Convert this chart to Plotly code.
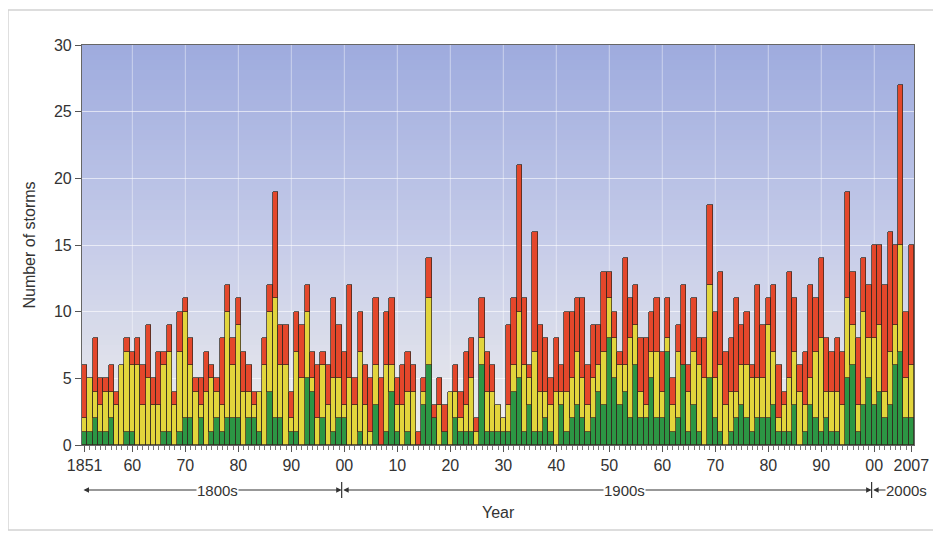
import plotly.graph_objects as go

years = list(range(1851, 2008))

total_storms = [
    6, 5, 8, 5, 5, 6, 4, 6, 8, 7,        # 1851-1860
    8, 6, 9, 5, 7, 7, 9, 4, 10, 11,      # 1861-1870
    8, 5, 5, 7, 6, 5, 8, 12, 8, 11,      # 1871-1880
    7, 6, 4, 4, 8, 12, 19, 9, 9, 4,      # 1881-1890
    10, 9, 12, 7, 6, 7, 6, 11, 9, 7,     # 1891-1900
    12, 5, 10, 6, 5, 11, 5, 10, 11, 5,   # 1901-1910
    6, 7, 6, 1, 5, 14, 3, 5, 3, 4,       # 1911-1920
    6, 4, 7, 8, 2, 11, 7, 6, 3, 2,       # 1921-1930
    9, 11, 21, 11, 6, 16, 9, 8, 5, 8,    # 1931-1940
    6, 10, 10, 11, 11, 6, 9, 9, 13, 13,  # 1941-1950
    10, 7, 14, 11, 12, 8, 8, 10, 11, 7,  # 1951-1960
    11, 5, 9, 12, 6, 11, 8, 8, 18, 10,   # 1961-1970
    13, 7, 8, 11, 9, 10, 6, 12, 9, 11,   # 1971-1980
    12, 6, 4, 13, 11, 6, 7, 12, 11, 14,  # 1981-1990
    8, 7, 8, 7, 19, 13, 8, 14, 12, 15,   # 1991-2000
    15, 12, 16, 15, 27, 10, 15,          # 2001-2007
]

hurricanes = [
    2, 5, 4, 3, 4, 4, 3, 6, 7, 6,
    6, 3, 5, 3, 3, 6, 7, 3, 7, 10,
    6, 4, 3, 4, 5, 4, 3, 10, 6, 9,
    4, 4, 3, 4, 6, 10, 11, 6, 6, 2,
    7, 5, 10, 5, 2, 6, 3, 5, 5, 3,
    5, 3, 7, 3, 1, 6, 0, 6, 6, 3,
    3, 4, 4, 0, 4, 11, 2, 3, 1, 4,
    4, 2, 3, 5, 1, 8, 4, 4, 3, 2,
    3, 6, 10, 6, 5, 7, 4, 4, 3, 4,
    4, 4, 5, 7, 5, 3, 5, 6, 7, 11,
    8, 6, 6, 8, 9, 4, 3, 7, 7, 4,
    8, 3, 7, 6, 4, 7, 6, 5, 12, 5,
    6, 3, 4, 4, 6, 6, 5, 5, 5, 9,
    7, 2, 3, 5, 7, 4, 3, 5, 7, 8,
    4, 4, 4, 3, 11, 9, 3, 10, 8, 8,
    9, 4, 7, 9, 15, 5, 6,
]

major_hurricanes = [
    1, 1, 2, 1, 1, 2, 0, 0, 1, 1,
    0, 0, 0, 0, 0, 1, 1, 0, 1, 2,
    2, 0, 2, 0, 1, 2, 1, 2, 2, 2,
    0, 2, 2, 1, 0, 4, 2, 2, 0, 1,
    1, 0, 5, 4, 0, 2, 0, 1, 2, 2,
    0, 0, 1, 0, 0, 3, 0, 1, 4, 1,
    0, 1, 0, 0, 3, 6, 2, 0, 1, 0,
    2, 1, 1, 1, 0, 6, 1, 1, 1, 1,
    1, 4, 5, 1, 3, 1, 1, 2, 1, 0,
    3, 1, 2, 3, 2, 1, 2, 4, 3, 8,
    5, 3, 4, 2, 6, 2, 2, 5, 2, 2,
    7, 1, 2, 6, 1, 3, 1, 0, 5, 2,
    1, 0, 1, 2, 3, 2, 1, 2, 2, 2,
    3, 1, 1, 1, 3, 0, 1, 3, 2, 1,
    2, 1, 1, 0, 5, 6, 1, 3, 5, 3,
    4, 2, 3, 6, 7, 2, 2,
]

tick_years = [1851, 1860, 1870, 1880, 1890, 1900, 1910, 1920, 1930, 1940,
              1950, 1960, 1970, 1980, 1990, 2000, 2007]
tick_labels = ["1851", "60", "70", "80", "90", "00", "10", "20", "30", "40",
               "50", "60", "70", "80", "90", "00", "2007"]
grid_years = [1860, 1870, 1880, 1890, 1900, 1910, 1920, 1930, 1940, 1950,
              1960, 1970, 1980, 1990, 2000]
century_labels = ["1800s", "1900s", "2000s"]
century_bounds = [(1850.5, 1899.5), (1899.5, 1999.5), (1999.5, 2007.5)]

# stacked pieces
def nz(v):
    return [x if x > 0 else None for x in v]

ts_only = [t - h for t, h in zip(total_storms, hurricanes)]
hur_only = [h - m for h, m in zip(hurricanes, major_hurricanes)]

FONT = "Liberation Sans, Arial, sans-serif"
outline = dict(color="rgba(50,40,30,0.9)", width=0.8)

fig = go.Figure()
fig.add_bar(x=years, y=nz(major_hurricanes), name="Major hurricanes",
            marker=dict(color="#2c9644", line=outline))
fig.add_bar(x=years, y=nz(hur_only), name="Hurricanes",
            marker=dict(color="#e2d53c", line=outline))
fig.add_bar(x=years, y=nz(ts_only), name="Tropical storms",
            marker=dict(color="#e4472b", line=outline))

shapes = []
# vertical gradient background of the plot area
N = 80
top = (158, 171, 222)
mid = (198, 204, 233)
bot = (240, 239, 236)
for i in range(N):
    t = (i + 0.5) / N
    if t < 0.5:
        a, b, u = bot, mid, t / 0.5
    else:
        a, b, u = mid, top, (t - 0.5) / 0.5
    c = tuple(int(round(a[k] + (b[k] - a[k]) * u)) for k in range(3))
    shapes.append(dict(type="rect", xref="paper", yref="paper",
                       x0=0, x1=1, y0=i / N, y1=(i + 1) / N + 0.002,
                       fillcolor="rgb(%d,%d,%d)" % c, line=dict(width=0),
                       layer="below"))
# decade grid lines
for gy in grid_years:
    shapes.append(dict(type="line", xref="x", yref="paper", x0=gy, x1=gy,
                       y0=0, y1=1, line=dict(color="rgba(255,255,255,0.45)", width=1),
                       layer="between"))
# century dividers below axis
ya = -0.1125
for xb in [1899.5, 1999.5]:
    shapes.append(dict(type="line", xref="x", yref="paper", x0=xb, x1=xb,
                       y0=ya - 0.02, y1=ya + 0.02, line=dict(color="#333", width=1.2)))
# outer frame
shapes.append(dict(type="rect", xref="paper", yref="paper",
                   x0=-0.089, x1=1.0265, y0=-0.2125, y1=1.0875,
                   line=dict(color="#d2d2d2", width=1.5), fillcolor="rgba(0,0,0,0)"))

annotations = []
for (x0, x1) in century_bounds:
    annotations.append(dict(x=x1, y=ya, xref="x", yref="paper",
                            ax=x0, ay=0, axref="x", ayref="pixel",
                            text="", showarrow=True, arrowside="end+start",
                            arrowhead=2, startarrowhead=2, arrowsize=1, startarrowsize=1,
                            arrowwidth=1.1, arrowcolor="#333"))
label_x = [1876.0, 1952.8, 2006.0]
for lab, lx in zip(century_labels, label_x):
    annotations.append(dict(x=lx, y=ya, xref="x", yref="paper", text=lab,
                            showarrow=False, bgcolor="#ffffff",
                            font=dict(family=FONT, size=15, color="#333"),
                            borderpad=0, xanchor="center", yanchor="middle"))
annotations.append(dict(x=0.5, y=-0.1675, xref="paper", yref="paper", text="Year",
                        showarrow=False, font=dict(family=FONT, size=16, color="#333"),
                        xanchor="center", yanchor="middle"))

# page body adds an 8px offset, so the figure is 8px smaller and margins shifted
fig.update_layout(
    width=933, height=530,
    margin=dict(l=74, r=21, t=37, b=93),
    paper_bgcolor="#ffffff",
    plot_bgcolor="rgba(0,0,0,0)",
    barmode="stack", bargap=0,
    showlegend=False,
    font=dict(family=FONT, size=16, color="#333"),
    shapes=shapes,
    annotations=annotations,
    xaxis=dict(range=[1850.5, 2007.5], tickmode="array", tickvals=tick_years,
               ticktext=tick_labels, ticks="outside", ticklen=6, tickcolor="#555",
               showline=True, linecolor="#666", linewidth=1.2, mirror=True,
               showgrid=False, zeroline=False,
               minor=dict(tick0=1851, dtick=1, ticks="outside", ticklen=4,
                          tickcolor="#777", showgrid=False),
               tickfont=dict(family=FONT, size=16, color="#333")),
    yaxis=dict(range=[0, 30], dtick=5, ticks="outside", ticklen=6, tickcolor="#555",
               showline=True, linecolor="#666", linewidth=1.2, mirror=True,
               showgrid=True, gridcolor="rgba(255,255,255,0.6)", gridwidth=1,
               zeroline=False,
               title=dict(text="Number of storms", standoff=14,
                          font=dict(family=FONT, size=16, color="#333")),
               tickfont=dict(family=FONT, size=16, color="#333")),
)

fig.write_html("out.html")
